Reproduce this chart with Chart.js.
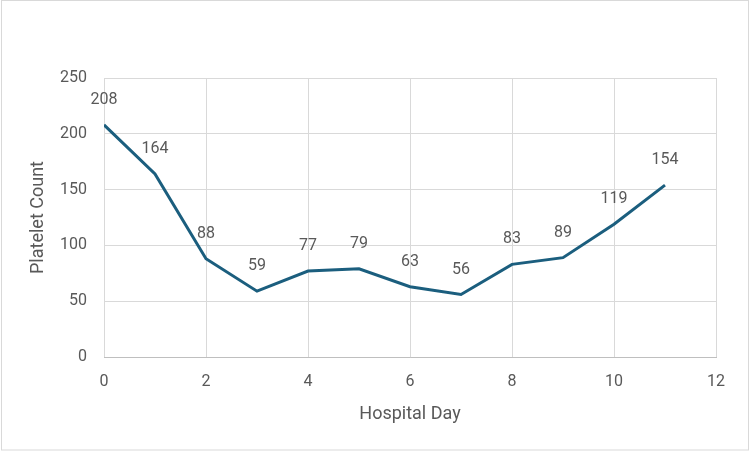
<!DOCTYPE html>
<html lang="en">
<head>
    <meta charset="UTF-8">
    <title>Platelet Count by Hospital Day</title>
    <style>
        body {
            margin: 0;
            background-color: #fff;
        }
        #chartContainer {
            width: 750px;
            height: 451px;
            position: relative;
        }
    </style>
    <script src="https://cdn.jsdelivr.net/npm/chart.js"></script>
</head>
<body>
    <div id="chartContainer">
        <canvas id="plateletChart"></canvas>
    </div>

    <script>
        const hospitalDays = [0, 1, 2, 3, 4, 5, 6, 7, 8, 9, 10, 11];
        const plateletCounts = [208, 164, 88, 59, 77, 79, 63, 56, 83, 89, 119, 154];
        const xTicks = [0, 2, 4, 6, 8, 10, 12];
        const yTicks = [0, 50, 100, 150, 200, 250];

        const textColor = '#595959';
        const fontFamily = "'Roboto', 'Open Sans', sans-serif";

        // labels above each point, like Excel data labels
        const pointLabels = {
            id: 'pointLabels',
            afterDatasetsDraw(chart) {
                const ctx = chart.ctx;
                const meta = chart.getDatasetMeta(0);
                ctx.save();
                ctx.font = '16px ' + fontFamily;
                ctx.fillStyle = textColor;
                ctx.textAlign = 'center';
                ctx.textBaseline = 'middle';
                meta.data.forEach(function (pt, i) {
                    ctx.fillText(String(plateletCounts[i]), pt.x, pt.y - 25);
                });
                ctx.restore();
            }
        };

        // white background and thin outer frame
        const frame = {
            id: 'frame',
            beforeDraw(chart) {
                const ctx = chart.ctx;
                ctx.save();
                ctx.fillStyle = '#fff';
                ctx.fillRect(0, 0, chart.width, chart.height);
                ctx.strokeStyle = '#d9d9d9';
                ctx.lineWidth = 1;
                ctx.strokeRect(1.5, 0.5, chart.width - 3, chart.height - 1.5);
                ctx.restore();
            }
        };

        const ctx = document.getElementById('plateletChart').getContext('2d');
        new Chart(ctx, {
            type: 'line',
            data: {
                datasets: [{
                    label: 'Platelet Count',
                    data: hospitalDays.map(function (d, i) { return { x: d, y: plateletCounts[i] }; }),
                    borderColor: '#1b5e7e',
                    borderWidth: 3,
                    pointRadius: 0,
                    fill: false,
                    tension: 0
                }]
            },
            options: {
                responsive: true,
                maintainAspectRatio: false,
                animation: false,
                layout: {
                    padding: { top: 78, right: 34, left: 28, bottom: 26 }
                },
                scales: {
                    x: {
                        type: 'linear',
                        min: 0,
                        max: 12,
                        afterBuildTicks: function (axis) {
                            axis.ticks = xTicks.map(function (v) { return { value: v }; });
                        },
                        afterFit: function (axis) { axis.height = 68; },
                        grid: { color: '#d9d9d9', drawTicks: false },
                        border: { color: '#bfbfbf', width: 1 },
                        ticks: {
                            color: textColor,
                            font: { family: fontFamily, size: 16 },
                            padding: 15
                        },
                        title: {
                            display: true,
                            text: 'Hospital Day',
                            color: textColor,
                            font: { family: fontFamily, size: 18 },
                            padding: { top: 4, bottom: 0 }
                        }
                    },
                    y: {
                        min: 0,
                        max: 250,
                        afterBuildTicks: function (axis) {
                            axis.ticks = yTicks.map(function (v) { return { value: v }; });
                        },
                        afterFit: function (axis) { axis.width = 76; },
                        grid: { color: '#d9d9d9', drawTicks: false },
                        border: { display: false },
                        ticks: {
                            color: textColor,
                            font: { family: fontFamily, size: 16 },
                            padding: 17
                        },
                        title: {
                            display: true,
                            text: 'Platelet Count',
                            color: textColor,
                            font: { family: fontFamily, size: 18 },
                            padding: { top: 0, bottom: 0 }
                        }
                    }
                },
                plugins: {
                    legend: { display: false },
                    tooltip: { enabled: false }
                }
            },
            plugins: [frame, pointLabels]
        });
    </script>
</body>
</html>
